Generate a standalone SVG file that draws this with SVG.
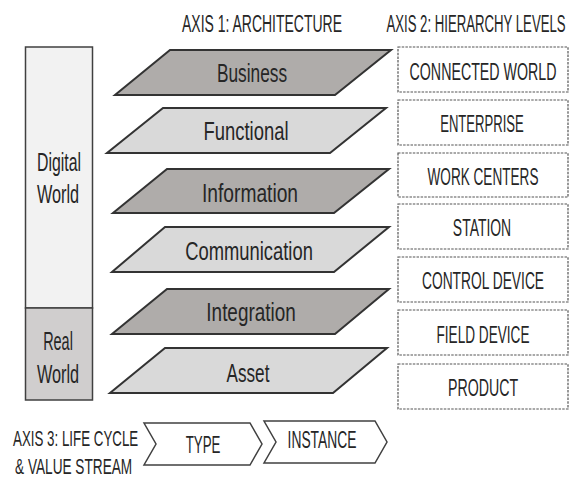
<svg xmlns="http://www.w3.org/2000/svg" width="576" height="478" viewBox="0 0 576 478">
<style>
text{font-family:"Liberation Sans",Arial,sans-serif;fill:#262626;text-anchor:middle}
.hdr{font-size:23.5px}
.lay{font-size:26px}
.lvl{font-size:24px}
.side{font-size:25px}
.ax3{font-size:22px;text-anchor:start}
.chev{font-size:23.5px}
.dark{fill:#afacaa;stroke:#333;stroke-width:2}
.light{fill:#d9d9d9;stroke:#333;stroke-width:2}
.box{fill:#fff;stroke:#555;stroke-width:1.2;stroke-dasharray:2.5 1.2}
.ch{fill:#fff;stroke:#404040;stroke-width:1.5}
</style>
<rect width="576" height="478" fill="#fff"/>
<g id="headers">
<text class="hdr" transform="translate(262,32) scale(0.62,1)" textLength="258" lengthAdjust="spacingAndGlyphs">AXIS 1: ARCHITECTURE</text>
<text class="hdr" transform="translate(476,32) scale(0.56,1)" textLength="320" lengthAdjust="spacingAndGlyphs">AXIS 2: HIERARCHY LEVELS</text>
</g>
<g id="worlds">
<rect x="25.5" y="47" width="67" height="261" fill="#f2f2f2" stroke="#404040" stroke-width="1.5"/>
<rect x="25.5" y="308" width="67" height="92" fill="#d0cece" stroke="#404040" stroke-width="1.5"/>
<text class="side" transform="translate(59,171) scale(0.62,1)" textLength="71" lengthAdjust="spacingAndGlyphs">Digital</text>
<text class="side" transform="translate(58,203) scale(0.62,1)" textLength="68" lengthAdjust="spacingAndGlyphs">World</text>
<text class="side" transform="translate(58,350) scale(0.62,1)" textLength="48" lengthAdjust="spacingAndGlyphs">Real</text>
<text class="side" transform="translate(58,383) scale(0.62,1)" textLength="68" lengthAdjust="spacingAndGlyphs">World</text>
</g>
<g id="layer-business">
<polygon class="dark" points="170,50 391,50 335,95 115,95"/>
<text class="lay" transform="translate(252,82) scale(0.62,1)" textLength="113" lengthAdjust="spacingAndGlyphs">Business</text>
</g>
<g id="layer-functional">
<polygon class="light" points="163,108 386,108 330,153 107,153"/>
<text class="lay" transform="translate(246,140) scale(0.62,1)" textLength="137" lengthAdjust="spacingAndGlyphs">Functional</text>
</g>
<g id="layer-information">
<polygon class="dark" points="167,169 389,169 334,213 113,213"/>
<text class="lay" transform="translate(250,202) scale(0.62,1)" textLength="155" lengthAdjust="spacingAndGlyphs">Information</text>
</g>
<g id="layer-communication">
<polygon class="light" points="165,227 389,227 334,272 112,272"/>
<text class="lay" transform="translate(249,260) scale(0.62,1)" textLength="206" lengthAdjust="spacingAndGlyphs">Communication</text>
</g>
<g id="layer-integration">
<polygon class="dark" points="167,289 389,289 335,334 112,334"/>
<text class="lay" transform="translate(251,321) scale(0.62,1)" textLength="144" lengthAdjust="spacingAndGlyphs">Integration</text>
</g>
<g id="layer-asset">
<polygon class="light" points="165,348 387,348 333,393 110,393"/>
<text class="lay" transform="translate(248,382) scale(0.62,1)" textLength="69" lengthAdjust="spacingAndGlyphs">Asset</text>
</g>
<g id="level-connected-world">
<rect class="box" x="398" y="47" width="170" height="45"/>
<text class="lvl" transform="translate(483,80) scale(0.62,1)" textLength="237" lengthAdjust="spacingAndGlyphs">CONNECTED WORLD</text>
</g>
<g id="level-enterprise">
<rect class="box" x="398" y="100" width="170" height="45"/>
<text class="lvl" transform="translate(482,132) scale(0.62,1)" textLength="135" lengthAdjust="spacingAndGlyphs">ENTERPRISE</text>
</g>
<g id="level-work-centers">
<rect class="box" x="398" y="153" width="170" height="44"/>
<text class="lvl" transform="translate(483,185) scale(0.62,1)" textLength="179" lengthAdjust="spacingAndGlyphs">WORK CENTERS</text>
</g>
<g id="level-station">
<rect class="box" x="398" y="204" width="170" height="45"/>
<text class="lvl" transform="translate(482,236) scale(0.62,1)" textLength="94" lengthAdjust="spacingAndGlyphs">STATION</text>
</g>
<g id="level-control-device">
<rect class="box" x="398" y="257" width="170" height="45"/>
<text class="lvl" transform="translate(483,289) scale(0.62,1)" textLength="197" lengthAdjust="spacingAndGlyphs">CONTROL DEVICE</text>
</g>
<g id="level-field-device">
<rect class="box" x="398" y="310" width="170" height="45"/>
<text class="lvl" transform="translate(483,343) scale(0.62,1)" textLength="150" lengthAdjust="spacingAndGlyphs">FIELD DEVICE</text>
</g>
<g id="level-product">
<rect class="box" x="398" y="364" width="170" height="45"/>
<text class="lvl" transform="translate(483,396) scale(0.62,1)" textLength="113" lengthAdjust="spacingAndGlyphs">PRODUCT</text>
</g>
<g id="axis3">
<text class="ax3" transform="translate(13,446) scale(0.62,1)" textLength="202" lengthAdjust="spacingAndGlyphs">AXIS 3: LIFE CYCLE</text>
<text class="ax3" transform="translate(15,474) scale(0.62,1)" textLength="189" lengthAdjust="spacingAndGlyphs">&amp; VALUE STREAM</text>
</g>
<g id="stage-type">
<polygon class="ch" points="144,423 250,423 262,444 250,465 144,465 156,444"/>
<text class="chev" transform="translate(203,453) scale(0.62,1)" textLength="56" lengthAdjust="spacingAndGlyphs">TYPE</text>
</g>
<g id="stage-instance">
<polygon class="ch" points="264,421 375,421 387,442 375,463 264,463 276,442"/>
<text class="chev" transform="translate(322,448) scale(0.62,1)" textLength="111" lengthAdjust="spacingAndGlyphs">INSTANCE</text>
</g>
<g id="connectors"/>
</svg>
